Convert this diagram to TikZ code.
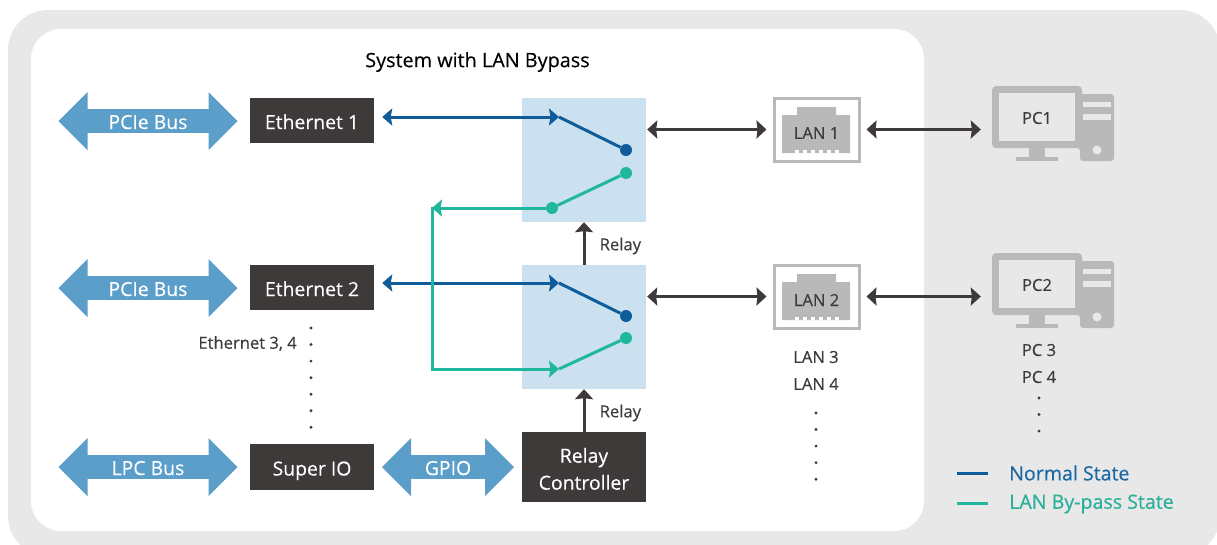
\documentclass[tikz,border=0pt]{standalone}
\usepackage{fontspec}
\setmainfont[FakeBold=0.25]{Open Sans}
\newfontfamily\legendfont[FakeBold=0.6]{Open Sans}
\usetikzlibrary{arrows.meta,shapes.arrows}
\definecolor{panelgray}{HTML}{E8E8E8}
\definecolor{boxdark}{HTML}{3E3A39}
\definecolor{busblue}{HTML}{5B9EC9}
\definecolor{relaybg}{HTML}{CCE1EF}
\definecolor{normalblue}{HTML}{0F5C9A}
\definecolor{bypassgreen}{HTML}{1FB89F}
\definecolor{icongray}{HTML}{B9B9B9}
\definecolor{legendblue}{HTML}{1D69A3}
\definecolor{legendgreen}{HTML}{2CB09B}
\tikzset{
  x=1pt,y=-1pt,
  lbl/.style={text=boxdark,font=\fontsize{16.6}{20}\selectfont,inner sep=0pt},
  darkbox/.style={fill=boxdark,text=white,font=\fontsize{19.4}{27}\selectfont,minimum width=124pt,inner sep=0pt,align=center},
  lowtext/.style={text height=17pt,text depth=0pt},
  busarrow/.style={shape=double arrow,fill=busblue,text=white,font=\fontsize{19.4}{22}\selectfont,double arrow head extend=12pt,minimum width=58pt,inner sep=0pt,text height=16pt,text depth=0pt},
  relaybox/.style={fill=relaybg,minimum width=124pt,minimum height=124pt,inner sep=0pt},
  normalline/.style={draw=normalblue,line width=3pt},
  bypassline/.style={draw=bypassgreen,line width=3pt},
  swtip/.style={-{Stealth[length=10pt,width=17pt,inset=1.5pt]}},
  swboth/.style={{Stealth[length=10pt,width=17pt,inset=1.5pt]}-{Stealth[length=10pt,width=17pt,inset=1.5pt]}},
  darkboth/.style={draw=boxdark,line width=3pt,{Stealth[length=10pt,width=18pt,inset=1pt]}-{Stealth[length=10pt,width=18pt,inset=1pt]}},
  darkup/.style={draw=boxdark,line width=3pt,-{Stealth[length=10pt,width=18pt,inset=1pt]}},
  ndot/.style={circle,fill=normalblue,minimum size=12pt,inner sep=0pt},
  bdot/.style={circle,fill=bypassgreen,minimum size=12pt,inner sep=0pt},
  tinydot/.style={circle,fill=boxdark,minimum size=3.2pt,inner sep=0pt},
  lanframe/.style={draw=icongray,line width=3pt,fill=white,minimum width=85pt,minimum height=63pt,inner sep=0pt},
  monitor/.style={fill=icongray,rounded corners=4pt,minimum width=90pt,minimum height=62pt,inner sep=0pt},
}
\newcommand{\lanparts}{%
  \fill[icongray] (782,115) -- (797,115) -- (797,107) -- (836,107) -- (836,115) -- (850,115) -- (850,153) -- (782,153) -- cycle;
  \foreach \tx in {795,803,811,819,827,835} \fill[white] (\tx,149.5) rectangle +(4,3.5);
}
\newcommand{\pcparts}{%
  \fill[icongray,rounded corners=3pt] (1078,94) -- (1114,94) -- (1114,161) -- (1080,161) -- (1080,148) -- (1078,148) -- cycle;
  \fill[panelgray] (1083,102) rectangle (1111,107);
  \fill[panelgray] (1083,114) rectangle (1111,120);
  \fill[panelgray] (1097,150) circle (4.5);
  \fill[icongray] (1029,146) rectangle (1045,158);
  \fill[icongray] (1016,157) rectangle (1058,161);
}
\begin{document}
\begin{tikzpicture}
\useasboundingbox (0,0) rectangle (1217,544);
\clip (0,0) rectangle (1217,544);
\fill[white] (0,0) rectangle (1217,544);
\fill[panelgray,rounded corners=40pt] (8,10) rectangle (1220,556);
\fill[white,rounded corners=30pt] (31,29) rectangle (924,531);

\node[font=\fontsize{19.8}{22}\selectfont,text=black,inner sep=0pt] (title) at (477.5,62) {System with LAN Bypass};

% bus arrows
\node[busarrow,minimum height=179pt] (bus1) at (148,121) {PCIe Bus};
\node[busarrow,minimum height=179pt] (bus2) at (148,288) {PCIe Bus};
\node[busarrow,minimum height=179pt] (bus3) at (148,467) {LPC Bus};
\node[busarrow,minimum height=132pt] (gpio) at (448,467) {GPIO};

% dark boxes
\node[darkbox,lowtext,minimum height=45pt] (eth1) at (312,120.5) {Ethernet 1};
\node[darkbox,lowtext,minimum height=45pt] (eth2) at (312,287.5) {Ethernet 2};
\node[darkbox,lowtext,minimum height=46pt] (sio) at (312,467) {Super IO};
\node[darkbox,minimum height=70pt] (rc) at (584,467) {\rule{0pt}{18.5pt}Relay\\Controller};

% relays
\node[relaybox] (relay1) at (584,160) {};
\node[relaybox] (relay2) at (584,327) {};

\draw[darkup] (relay2.north) -- (relay1.south);
\draw[darkup] (rc.north) -- (relay2.south);
\node[lbl,anchor=west] (rl1) at (599.5,246) {Relay};
\node[lbl,anchor=west] (rl2) at (599.5,413) {Relay};

% switch points
\coordinate (sw1) at (559,117);
\coordinate (sw2) at (559,283);
\coordinate (sw2b) at (559,369);
\coordinate (corner1) at (432,208);
\coordinate (corner2) at (432,369);
\node[ndot] (n1) at (626,150) {};
\node[bdot] (g1) at (626,173) {};
\node[bdot] (g1b) at (552,208) {};
\node[ndot] (n2) at (626,316) {};
\node[bdot] (g2) at (626,338) {};

\draw[normalline] (sw1) -- (n1);
\draw[normalline] (sw2) -- (n2);
\draw[bypassline] (g1b) -- (g1);
\draw[bypassline] (sw2b) -- (g2);

\draw[normalline,swboth,shorten <=8pt] (eth1.east |- sw1) -- (sw1);
\draw[normalline,swboth,shorten <=8pt] (eth2.east |- sw2) -- (sw2);
\draw[bypassline,line cap=rect] (corner1) -- (corner2);
\draw[bypassline,swtip] (corner2) -- (sw2b);
\draw[bypassline,swtip] (g1b) -- (corner1);

% LAN
\node[lanframe] (lan1) at (816.5,129.5) {};
\lanparts
\node[lbl] (lan1t) at (816.5,133) {LAN 1};
\node[lanframe] (lan2) at (816.5,296.5) {};
\begin{scope}[shift={(0,167)}]\lanparts\end{scope}
\node[lbl] (lan2t) at (816.5,300) {LAN 2};

% PC
\begin{scope}\pcparts\end{scope}
\node[monitor] (pc1) at (1037,117) {};
\fill[panelgray] (999,93) rectangle (1075,141);
\node[lbl] (pc1t) at (1037,118) {PC1};
\begin{scope}[shift={(0,167)}]\pcparts\end{scope}
\node[monitor] (pc2) at (1037,284) {};
\fill[panelgray] (999,260) rectangle (1075,308);
\node[lbl] (pc2t) at (1037,285) {PC2};

% dark connectors
\draw[darkboth,shorten <=1pt,shorten >=6pt] (relay1.east |- lan1.west) -- (lan1.west);
\draw[darkboth,shorten <=1pt,shorten >=6pt] (relay2.east |- lan2.west) -- (lan2.west);
\draw[darkboth,shorten <=6pt,shorten >=11pt] (lan1.east) -- (pc1.west |- lan1.east);
\draw[darkboth,shorten <=6pt,shorten >=11pt] (lan2.east) -- (pc2.west |- lan2.east);

% side labels and dots
\node[lbl,anchor=east] (eth34) at (297,343.5) {Ethernet 3, 4};
\foreach \i in {0,...,6} \node[tinydot] (ed\i) at (311,328+16.55*\i) {};
\node[lbl] (lan3) at (816,357) {LAN 3};
\node[lbl] (lan4) at (816,384) {LAN 4};
\foreach \i in {0,...,4} \node[tinydot] (ld\i) at (816,413+16.55*\i) {};
\node[lbl] (pc3) at (1039,350) {PC 3};
\node[lbl] (pc4) at (1039,377) {PC 4};
\foreach \i in {0,...,2} \node[tinydot] (pd\i) at (1039,398+16.55*\i) {};

% legend
\node[text=legendblue,font=\legendfont\fontsize{19.6}{22}\selectfont,anchor=west,inner sep=0pt] (legn) at (1009,473) {Normal State};
\node[text=legendgreen,font=\legendfont\fontsize{19.6}{22}\selectfont,anchor=west,inner sep=0pt] (legb) at (1009,504) {LAN By-pass State};
\coordinate (ln0) at (957,473);
\coordinate (lb0) at (957,503);
\draw[normalline] (ln0) -- ++(31,0);
\draw[bypassline] (lb0) -- ++(31,0);
\end{tikzpicture}
\end{document}
